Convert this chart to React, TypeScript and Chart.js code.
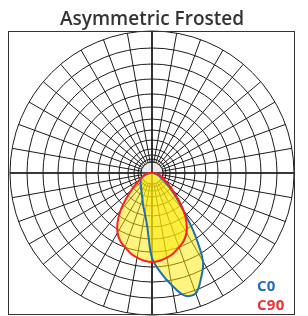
import React, { useEffect, useRef } from 'react';
import { Chart, registerables } from 'chart.js';

Chart.register(...registerables);

// ---- data ----
const chartTitle = 'Asymmetric Frosted';
const seriesNames = ['C0', 'C90'];

// gamma angles, measured clockwise (on screen) from nadir, 5° steps
const angleLabels = [
  0, 5, 10, 15, 20, 25, 30, 35, 40, 45, 50, 55, 60, 65, 70, 75, 80, 85,
  90, 95, 100, 105, 110, 115, 120, 125, 130, 135, 140, 145, 150, 155, 160, 165, 170, 175,
  180, 185, 190, 195, 200, 205, 210, 215, 220, 225, 230, 235, 240, 245, 250, 255, 260, 265,
  270, 275, 280, 285, 290, 295, 300, 305, 310, 315, 320, 325, 330, 335, 340, 345, 350, 355,
];

// circles of the polar grid (radial units)
const ringValues = [11, 14, 18, 24, 33, 43, 54, 66, 79, 94, 109, 125, 142];
const diskValue = 11;
const scaleMax = 142;
const axisAngles = [0, 90, 180, 270];
const gridStepDeg = 10;

// C90 plane (symmetric lobe)
const c90Values = [
  89,
  88, 86, 83, 79, 75, 69, 60, 49, 37, 27, 20, 15, 12, 10, 8, 6, 4, 2,
  1, 0, 0, 0, 0, 0, 0, 0, 0, 0, 0, 0, 0, 0, 0, 0, 0, 0, 0, 0, 0, 0, 0, 0, 0, 0, 0, 0, 0, 0, 0, 0, 0, 0, 1,
  2, 4, 6, 8, 10, 12, 15, 20, 27, 37, 49, 60, 69, 75, 79, 83, 86, 88,
];

// C0 plane (asymmetric lobe, tilted to the right)
const c0Values = [
  85,
  54, 41, 34, 28, 24, 21, 19, 17, 16, 15, 14, 13, 11, 9, 7, 5, 3, 1,
  0, 0, 0, 0, 0, 0, 0, 0, 0, 0, 0, 0, 0, 0, 0, 0, 0, 0, 0, 0, 0, 0, 0, 0, 0, 0, 0, 0, 0, 0, 0, 0, 0, 0, 0,
  1, 2, 3, 5, 7, 9, 12, 17, 24, 34, 48, 74, 102, 116, 128, 127, 114, 100,
];

// ---- styles ----
const C0_COLOR = '#1f6eb6';
const C90_COLOR = '#ff1f1f';
const FILL = 'rgba(255, 233, 0, 0.5)';
const GRID = '#1c1c1c';

const centerPlugin = {
  id: 'centerDisk',
  beforeDatasetsDraw(chart: any) {
    const s = chart.scales.r;
    const ctx = chart.ctx;
    const rd = s.getDistanceFromCenterForValue(diskValue);
    const rMax = s.getDistanceFromCenterForValue(scaleMax);
    ctx.save();
    ctx.beginPath();
    ctx.arc(s.xCenter, s.yCenter, rd, 0, Math.PI * 2);
    ctx.fillStyle = '#ebebeb';
    ctx.fill();
    ctx.lineWidth = 1;
    ctx.strokeStyle = GRID;
    ctx.stroke();
    ctx.lineWidth = 1.6;
    axisAngles.forEach((a) => {
      const idx = angleLabels.indexOf(a);
      const p = s.getPointPosition(idx, rMax);
      ctx.beginPath();
      ctx.moveTo(s.xCenter, s.yCenter);
      ctx.lineTo(p.x, p.y);
      ctx.stroke();
    });
    ctx.restore();
  },
};

export default function App() {
  const ref = useRef<HTMLCanvasElement | null>(null);

  useEffect(() => {
    if (!ref.current) return;
    const chart = new Chart(ref.current, {
      type: 'radar',
      data: {
        labels: angleLabels.map((a) => a + '°'),
        datasets: [
          { label: seriesNames[1], data: c90Values, borderColor: C90_COLOR, borderWidth: 2, fill: false, pointRadius: 0, tension: 0.35 },
          { label: seriesNames[0], data: c0Values, borderColor: C0_COLOR, borderWidth: 2, fill: false, pointRadius: 0, tension: 0.35 },
          { label: seriesNames[1] + ' fill', data: c90Values, borderColor: 'rgba(0,0,0,0)', borderWidth: 0, backgroundColor: FILL, fill: 'origin', pointRadius: 0, tension: 0.35 },
          { label: seriesNames[0] + ' fill', data: c0Values, borderColor: 'rgba(0,0,0,0)', borderWidth: 0, backgroundColor: FILL, fill: 'origin', pointRadius: 0, tension: 0.35 },
        ],
      },
      options: {
        responsive: false,
        animation: false,
        events: [],
        devicePixelRatio: 1,
        layout: { padding: { left: 10, right: 14, top: 0, bottom: 1 } },
        plugins: {
          legend: { display: false },
          tooltip: { enabled: false },
          title: {
            display: true,
            text: chartTitle,
            color: '#333333',
            font: { family: 'Open Sans', size: 19, weight: '600', lineHeight: 1.2 },
            padding: { top: 8, bottom: 0.2 },
          },
        },
        scales: {
          r: {
            min: 0,
            max: scaleMax,
            startAngle: 180,
            afterBuildTicks: (scale: any) => {
              scale.ticks = [0, ...ringValues].map((v) => ({ value: v }));
            },
            ticks: { display: false },
            pointLabels: { display: false },
            grid: { circular: true, color: GRID, lineWidth: 1 },
            angleLines: {
              color: GRID,
              lineWidth: (ctx: any) => (angleLabels[ctx.index] % gridStepDeg === 0 ? 1 : 0),
            },
          },
        },
      },
      plugins: [centerPlugin],
    } as any);
    return () => chart.destroy();
  }, []);

  const legendFont: React.CSSProperties = {
    position: 'absolute',
    left: 257,
    fontFamily: 'Open Sans',
    fontWeight: 700,
    fontSize: 15,
    lineHeight: '15px',
    letterSpacing: '0.3px',
    whiteSpace: 'nowrap',
  };

  return (
    <div style={{ position: 'absolute', left: 0, top: 0, width: 308, height: 316 }}>
      <canvas ref={ref} width={308} height={316} style={{ display: 'block', width: 308, height: 316 }} />
      <div
        style={{
          position: 'absolute',
          left: 8,
          top: 31,
          width: 287,
          height: 284,
          boxSizing: 'border-box',
          border: '1.5px solid #333',
          pointerEvents: 'none',
        }}
      />
      <div style={{ ...legendFont, top: 278, color: C0_COLOR }}>{seriesNames[0]}</div>
      <div style={{ ...legendFont, top: 297, color: '#ee3035' }}>{seriesNames[1]}</div>
    </div>
  );
}
